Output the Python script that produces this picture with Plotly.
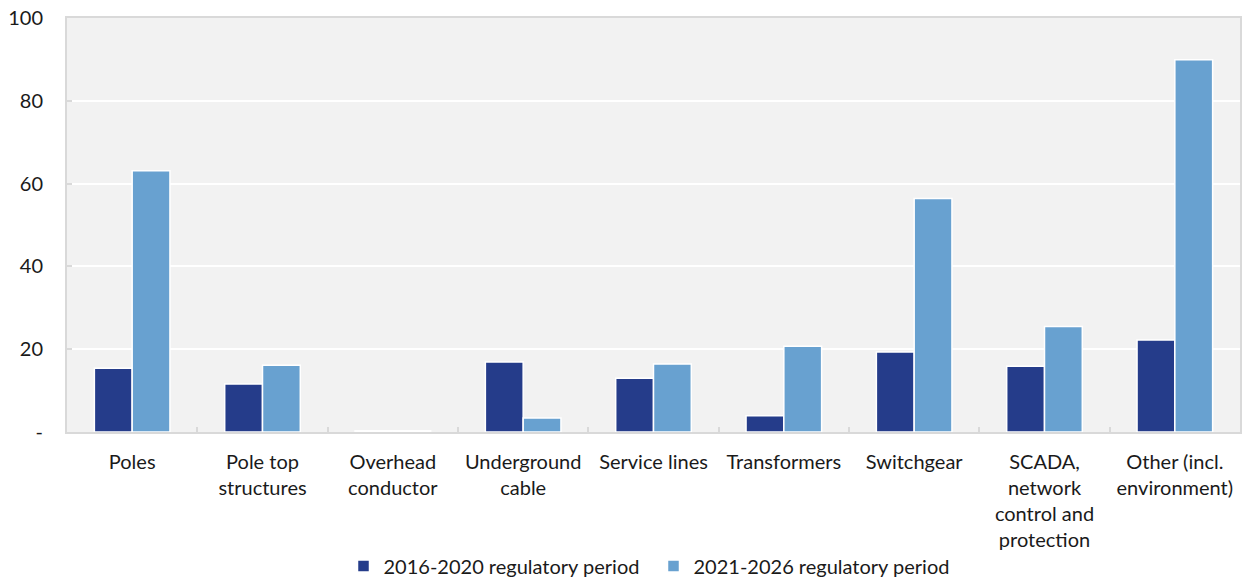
import plotly.graph_objects as go

categories = [
    "Poles",
    "Pole top<br>structures",
    "Overhead<br>conductor",
    "Underground<br>cable",
    "Service lines",
    "Transformers",
    "Switchgear",
    "SCADA,<br>network<br>control and<br>protection",
    "Other (incl.<br>environment)",
]
period_2016_2020 = [15.4, 11.6, 0.3, 16.9, 13.0, 3.9, 19.3, 15.9, 22.2]
period_2021_2026 = [63.1, 16.1, 0.3, 3.4, 16.4, 20.7, 56.4, 25.5, 89.9]
y_tick_values = [0, 20, 40, 60, 80, 100]
y_tick_labels = ["-", "20", "40", "60", "80", "100"]

DARK = "#253C8A"
LIGHT = "#68A1D0"
FONT = "Lato, 'Open Sans', sans-serif"

fig = go.Figure()
fig.add_trace(go.Bar(
    x=categories, y=period_2016_2020, name="2016-2020 regulatory period",
    marker=dict(color=DARK, line=dict(color="white", width=1.5)),
))
fig.add_trace(go.Bar(
    x=categories, y=period_2021_2026, name="2021-2026 regulatory period",
    marker=dict(color=LIGHT, line=dict(color="white", width=1.5)),
))

fig.update_layout(
    width=1242, height=580,
    margin=dict(l=67, r=2, t=18, b=148),
    paper_bgcolor="white",
    plot_bgcolor="#F2F2F2",
    barmode="group",
    bargap=0.42,
    bargroupgap=0.0,
    font=dict(family=FONT, size=20, color="#1a1a1a"),
    legend=dict(
        orientation="h", x=0.5, xanchor="center",
        yref="container", y=0.024, yanchor="middle",
        font=dict(size=20), itemwidth=30, traceorder="normal",
        entrywidth=265,
    ),
    xaxis=dict(
        showline=True, linecolor="#D9D9D9", linewidth=2, mirror=True,
        ticks="inside", ticklen=5, tickcolor="#D9D9D9", tickwidth=2,
        tickson="boundaries", showgrid=False, automargin=False,
        tickfont=dict(size=20), ticklabelstandoff=11,
    ),
    yaxis=dict(
        range=[0, 100], tickvals=y_tick_values, ticktext=y_tick_labels,
        showline=True, linecolor="#D9D9D9", linewidth=2, mirror=True,
        gridcolor="white", gridwidth=2, zeroline=False, automargin=False,
        ticks="inside", ticklen=5, tickcolor="#D9D9D9", tickwidth=2,
        ticklabelstandoff=18, tickfont=dict(size=20),
    ),
)

fig.write_html("out.html")
